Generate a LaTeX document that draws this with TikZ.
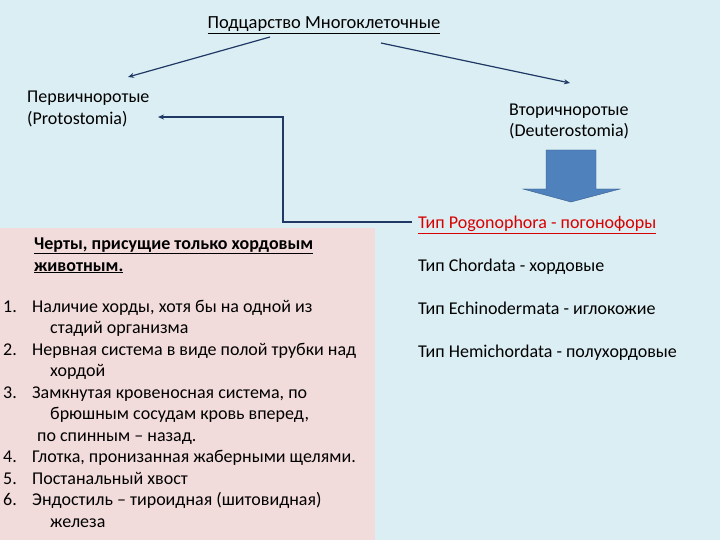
\documentclass[tikz,border=0pt]{standalone}
\usepackage{fontspec}
\setmainfont{Carlito}
\usetikzlibrary{arrows.meta}
\definecolor{bg}{HTML}{DBEEF4}
\definecolor{pinkbg}{HTML}{F2DCDB}
\definecolor{arrblue}{HTML}{4F81BD}
\definecolor{arrblueline}{HTML}{385D8A}
\definecolor{linecol}{HTML}{1F3864}
\tikzset{lbl/.style={anchor=base west,inner sep=0,font=\fontsize{18}{21.5}\selectfont},
 conn/.style={draw=linecol,line width=1.2pt,-{Stealth[length=6pt,width=5pt]}}}
\begin{document}
\begin{tikzpicture}[x=1pt,y=-1pt]
\fill[bg] (0,0) rectangle (720,540);
\useasboundingbox (0,0) rectangle (720,540);
\fill[pinkbg] (0,228) rectangle (375,540);
\node[anchor=base,inner sep=0,font=\fontsize{18.5}{20}\selectfont] (top) at (324,29) {\underline{Подцарство Многоклеточные}};
\node[lbl] (proto) at (27,103) {Первичноротые};
\node[lbl] (proto2) at (27,125) {(Protostomia)};
\node[lbl] (deut) at (509,116) {Вторичноротые};
\node[lbl] (deut2) at (509,137) {(Deuterostomia)};
\coordinate (a1) at (270,37); \coordinate (a1e) at (128,77);
\coordinate (a2) at (381,43); \coordinate (a2e) at (570,83);
\draw[conn] (a1) -- (a1e);
\draw[conn] (a2) -- (a2e);
\node[lbl,text=red!85!black] (pogo) at (418,229) {\underline{Тип Pogonophora - погонофоры}};
\coordinate (c0) at (412,222); \coordinate (c1) at (283,222); \coordinate (c2) at (283,117); \coordinate (c3) at (158,117);
\draw[conn] (c0) -- (c1) -- (c2) -- (c3);
\draw[fill=arrblue,draw=arrblueline] (546,150) -- (596,150) -- (596,189) -- (620,189) -- (571,202) -- (523,189) -- (546,189) -- cycle;
\node[lbl] (chord) at (418,271) {Тип Chordata - хордовые};
\node[lbl] (echi) at (418,314) {Тип Echinodermata - иглокожие};
\node[lbl] (hemi) at (418,357) {Тип Hemichordata - полухордовые};
\node[lbl,font=\fontsize{18}{21}\selectfont\bfseries] (feat) at (34,249) {\underline{Черты, присущие только хордовым}};
\node[lbl,font=\fontsize{18}{21}\selectfont\bfseries] (feat2) at (34,271) {\underline{животным.}};
\foreach \t [count=\i] in {
{\makebox[29pt][l]{1.}Наличие хорды, хотя бы на одной из},
{\hspace*{47pt}стадий организма},
{\makebox[29pt][l]{2.}Нервная система в виде полой трубки над},
{\hspace*{47pt}хордой},
{\makebox[29pt][l]{3.}Замкнутая кровеносная система, по},
{\hspace*{47pt}брюшным сосудам кровь вперед,},
{\hspace*{34pt}по спинным -- назад.},
{\makebox[29pt][l]{4.}Глотка, пронизанная жаберными щелями.},
{\makebox[29pt][l]{5.}Постанальный хвост},
{\makebox[29pt][l]{6.}Эндостиль -- тироидная (шитовидная)},
{\hspace*{47pt}железа}}
  \node[lbl] (li\i) at (3,{312+21.5*(\i-1)}) {\t};
\end{tikzpicture}
\end{document}
